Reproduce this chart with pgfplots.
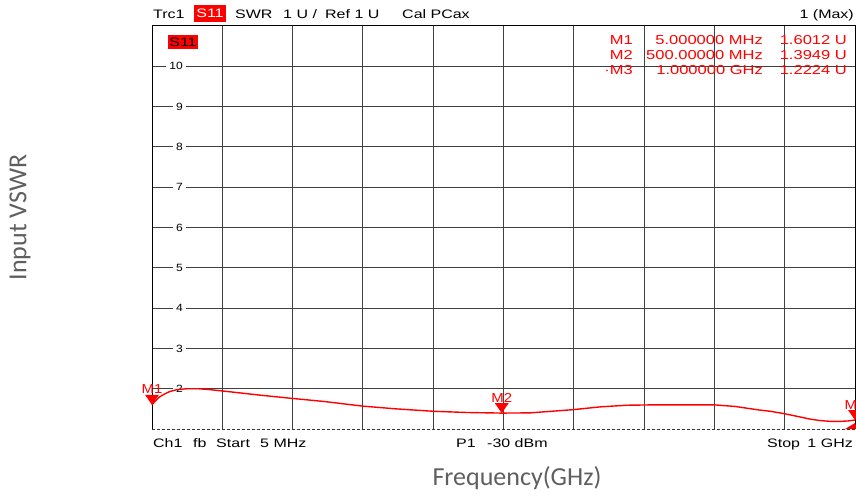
\documentclass[border=0pt]{standalone}
\usepackage{fontspec}
\setmainfont{Liberation Sans}
\newfontfamily\calfont{Carlito}
\usepackage{graphicx}
\usepackage{pgfplots}
\pgfplotsset{compat=1.18}
\definecolor{labgray}{RGB}{95,95,95}
\newcommand{\inst}[1]{{\fontsize{12.3}{14}\selectfont\scalebox{1.3}[1]{#1}}}
\newcommand{\mk}[1]{{\fontsize{13}{15}\selectfont\scalebox{1.27}[1]{#1}}}
\newcommand{\tk}[1]{{\fontsize{10.5}{12}\selectfont\scalebox{1.15}[1]{#1}}}
\newcommand{\ml}[1]{{\fontsize{13}{15}\selectfont\scalebox{1.15}[1]{#1}}}
\pgfdeclareplotmark{dtri}{%
 \pgfpathmoveto{\pgfpoint{0pt}{0pt}}%
 \pgfpathlineto{\pgfpoint{-7pt}{10pt}}%
 \pgfpathlineto{\pgfpoint{7pt}{10pt}}%
 \pgfpathclose\pgfusepathqfill}
\begin{document}
\begin{tikzpicture}[x=1pt,y=1pt]
\useasboundingbox (0,0) rectangle (856,496);
\begin{axis}[at={(152pt,67pt)}, anchor=south west, scale only axis,
 width=703pt, height=403pt,
 xmin=5, xmax=1000, ymin=1, ymax=11,
 axis line style={draw=none},
 xtick={104.5,204,303.5,403,502.5,602,701.5,801,900.5}, xticklabels={},
 ytick={2,3,4,5,6,7,8,9,10},
 yticklabels={\tk{2},\tk{3},\tk{4},\tk{5},\tk{6},\tk{7},\tk{8},\tk{9},\tk{10}},
 major tick length=0pt, tick style={draw=none},
 grid=major, major grid style={black!75, line width=0.9pt},
 yticklabel style={anchor=east, xshift=34pt, fill=white, inner xsep=3pt, inner ysep=1pt, text=black},
 clip=false]
\draw[black, line width=1pt] (rel axis cs:0,0) -- (rel axis cs:0,1) -- (rel axis cs:1,1) -- (rel axis cs:1,0);
\draw[black!80, line width=1pt, dash pattern=on 3pt off 2pt] (rel axis cs:0,0) -- (rel axis cs:1,0);
\addplot[red, line width=1.4pt] coordinates {
(5,1.601) (10,1.70) (16,1.80) (23,1.87) (30,1.93) (40,1.975) (55,2.00) (70,2.00)
(85,1.98) (104,1.945) (158,1.84) (203,1.76) (250,1.68) (302,1.57) (350,1.50)
(403,1.44) (450,1.41) (500,1.395) (540,1.40) (582,1.455) (601,1.48) (640,1.55)
(677,1.59) (720,1.60) (770,1.60) (800,1.60) (830,1.56) (865,1.47) (880,1.44)
(900,1.38) (922,1.30) (935,1.25) (950,1.21) (965,1.19) (980,1.19) (990,1.20) (1000,1.2224)};
\addplot[only marks, mark=dtri, red, point meta=explicit symbolic,
 nodes near coords={\ml{\pgfplotspointmeta}},
 every node near coord/.style={anchor=base, yshift=11pt, text=red, inner sep=0pt}]
 coordinates {(5,1.6012)[M1] (500,1.3949)[M2] (1000,1.2224)[M3]};
\fill[red] ([xshift=-10pt]rel axis cs:1,0) -- ([yshift=6pt]rel axis cs:1,0) -- ([xshift=2pt]rel axis cs:1,0) -- cycle;
\end{axis}
% header
\node[anchor=base west, inner sep=0] at (153,477) {\inst{Trc1}};
\node[fill=red, minimum width=32pt, minimum height=17pt, inner sep=0, text=white] at (210,482.5) {\inst{S11}};
\node[anchor=base west, inner sep=0] at (235,477) {\inst{SWR}};
\node[anchor=base west, inner sep=0] at (283,477) {\inst{1 U /}};
\node[anchor=base west, inner sep=0] at (325,477) {\inst{Ref 1 U}};
\node[anchor=base west, inner sep=0] at (402,477) {\inst{Cal PCax}};
\node[anchor=base east, inner sep=0] at (854,477) {\inst{1 (Max)}};
% S11 box
\node[fill=red, minimum width=30pt, minimum height=14pt, inner sep=0, text=black] at (183,454) {\inst{S11}};
% marker table
\begin{scope}[every node/.style={anchor=base east, inner sep=0, text=red}]
\node at (633,451) {\mk{M1}};
\node at (633,436.7) {\mk{M2}};
\node at (633,421) {\mk{·M3}};
\node at (763,451) {\mk{5.000000 MHz}};
\node at (763,436.7) {\mk{500.00000 MHz}};
\node at (763,421) {\mk{1.000000 GHz}};
\node at (847,451) {\mk{1.6012 U}};
\node at (847,436.7) {\mk{1.3949 U}};
\node at (847,421) {\mk{1.2224 U}};
\end{scope}
% footer
\node[anchor=base west, inner sep=0] at (153,49) {\inst{Ch1}};
\node[anchor=base west, inner sep=0] at (193,49) {\inst{fb}};
\node[anchor=base west, inner sep=0] at (216,49) {\inst{Start}};
\node[anchor=base west, inner sep=0] at (260,49) {\inst{5 MHz}};
\node[anchor=base west, inner sep=0] at (456,49) {\inst{P1}};
\node[anchor=base west, inner sep=0] at (487,49) {\inst{-30 dBm}};
\node[anchor=base west, inner sep=0] at (767,49) {\inst{Stop}};
\node[anchor=base east, inner sep=0] at (853,49) {\inst{1 GHz}};
% axis titles
\node[rotate=90, text=labgray, font=\calfont\fontsize{26}{30}\selectfont] at (20,278.5) {Input VSWR};
\node[text=labgray, font=\calfont\fontsize{26}{30}\selectfont] at (517,18) {Frequency(GHz)};
\end{tikzpicture}
\end{document}
